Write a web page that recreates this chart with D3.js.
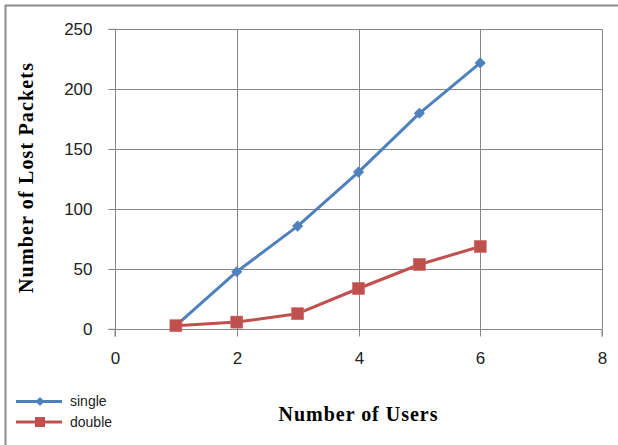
<!DOCTYPE html>
<html>
<head>
<meta charset="utf-8">
<script src="https://cdn.jsdelivr.net/npm/d3@7"></script>
<style>
html,body{margin:0;padding:0;background:#fff;}
svg{display:block;}
</style>
</head>
<body>
<svg id="chart" width="618" height="445"></svg>
<script>
const users = [1, 2, 3, 4, 5, 6];
const singleValues = [3, 48, 86, 131, 180, 222];
const doubleValues = [3, 6, 13, 34, 54, 69];
const seriesNames = ["single", "double"];
const xTicks = [0, 2, 4, 6, 8];
const yTicks = [0, 50, 100, 150, 200, 250];

const svg = d3.select("#chart");
const W = 618, H = 445;
const x = d3.scaleLinear().domain([0, 8]).range([115, 602]);
const y = d3.scaleLinear().domain([0, 250]).range([329.3, 29.3]);
const gridColor = "#868686";
const blue = "#4F81BD", red = "#C0504D";

// outer frame (top and left visible)
svg.append("line").attr("x1", 5).attr("x2", W).attr("y1", 5.5).attr("y2", 5.5)
  .attr("stroke", "#8c8c8c").attr("stroke-width", 2);
svg.append("line").attr("x1", 5.5).attr("x2", 5.5).attr("y1", 5).attr("y2", H)
  .attr("stroke", "#8c8c8c").attr("stroke-width", 2);

// gridlines
svg.append("g").selectAll("line").data(yTicks.filter(d => d > 0)).join("line")
  .attr("x1", x(0)).attr("x2", x(8))
  .attr("y1", d => Math.round(y(d)) + 0.5).attr("y2", d => Math.round(y(d)) + 0.5)
  .attr("stroke", gridColor).attr("stroke-width", 1);
svg.append("g").selectAll("line").data(xTicks.filter(d => d > 0)).join("line")
  .attr("x1", d => Math.round(x(d)) + 0.5).attr("x2", d => Math.round(x(d)) + 0.5)
  .attr("y1", y(250)).attr("y2", y(0))
  .attr("stroke", gridColor).attr("stroke-width", 1);

// axes
const yAxis = d3.axisLeft(y).tickValues(yTicks).tickSize(7).tickPadding(16)
  .tickFormat(d3.format("d"))
  .offset(0);
const gy = svg.append("g").attr("transform", `translate(${Math.round(x(0)) + 0.5},0)`).call(yAxis);
gy.selectAll(".tick").attr("transform", d => `translate(0,${Math.round(y(d)) + 0.5})`);
const xAxis = d3.axisBottom(x).tickValues(xTicks).tickSize(7).tickPadding(22)
  .tickFormat(d3.format("d")).offset(0);
const gx = svg.append("g").attr("transform", `translate(0,${Math.round(y(0)) + 0.5})`).call(xAxis);
gx.selectAll(".tick").attr("transform", d => `translate(${Math.round(x(d)) + 0.5},0)`);
[gx, gy].forEach(g => {
  g.select(".domain").attr("stroke", gridColor);
  g.selectAll(".tick line").attr("stroke", gridColor);
  g.selectAll(".tick text").attr("fill", "#222")
    .style("font-family", "'Liberation Sans', Arial, sans-serif").style("font-size", "17px");
});
gx.selectAll(".tick text").attr("dy", "0.32em");

// lines
const line = d3.line().x((d, i) => x(users[i])).y(d => y(d));
svg.append("path").datum(singleValues).attr("d", line)
  .attr("fill", "none").attr("stroke", blue).attr("stroke-width", 3).attr("stroke-linejoin", "round");
svg.append("path").datum(doubleValues).attr("d", line)
  .attr("fill", "none").attr("stroke", red).attr("stroke-width", 3).attr("stroke-linejoin", "round");

svg.append("g").selectAll("path").data(singleValues).join("path")
  .attr("d", d3.symbol().type(d3.symbolSquare).size(62))
  .attr("transform", (d, i) => `translate(${x(users[i])},${y(d)}) rotate(45)`)
  .attr("fill", blue);
svg.append("g").selectAll("rect").data(doubleValues).join("rect")
  .attr("x", (d, i) => x(users[i]) - 6).attr("y", d => y(d) - 6)
  .attr("width", 12).attr("height", 12)
  .attr("fill", red).attr("stroke", "#d06560").attr("stroke-width", 0.6);

// axis titles
svg.append("text")
  .attr("transform", `translate(33,178) rotate(-90)`)
  .attr("text-anchor", "middle")
  .attr("textLength", 230).attr("lengthAdjust", "spacing")
  .style("font-family", "'Liberation Serif', 'Times New Roman', serif")
  .style("font-weight", "bold").style("font-size", "20px")
  .text("Number of Lost Packets");
svg.append("text")
  .attr("x", 358).attr("y", 421)
  .attr("text-anchor", "middle")
  .attr("textLength", 159).attr("lengthAdjust", "spacing")
  .style("font-family", "'Liberation Serif', 'Times New Roman', serif")
  .style("font-weight", "bold").style("font-size", "20px")
  .text("Number of Users");

// legend
const legendColors = [blue, red];
const lg = svg.append("g").selectAll("g").data(seriesNames).join("g")
  .attr("transform", (d, i) => `translate(0,${i === 0 ? 401.5 : 422})`);
lg.append("line").attr("x1", 16).attr("x2", 62).attr("y1", 0).attr("y2", 0)
  .attr("stroke", (d, i) => legendColors[i]).attr("stroke-width", 3);
lg.filter((d, i) => i === 0).append("path")
  .attr("d", d3.symbol().type(d3.symbolSquare).size(40))
  .attr("transform", "translate(40,0) rotate(45)").attr("fill", blue);
lg.filter((d, i) => i === 1).append("rect")
  .attr("x", 35).attr("y", -5).attr("width", 10).attr("height", 10).attr("fill", red);
lg.append("text").attr("x", 70).attr("y", 0).attr("dy", "0.35em")
  .style("font-family", "'Liberation Sans', Arial, sans-serif").style("font-size", "14px")
  .attr("fill", "#222")
  .text(d => d);
</script>
</body>
</html>
